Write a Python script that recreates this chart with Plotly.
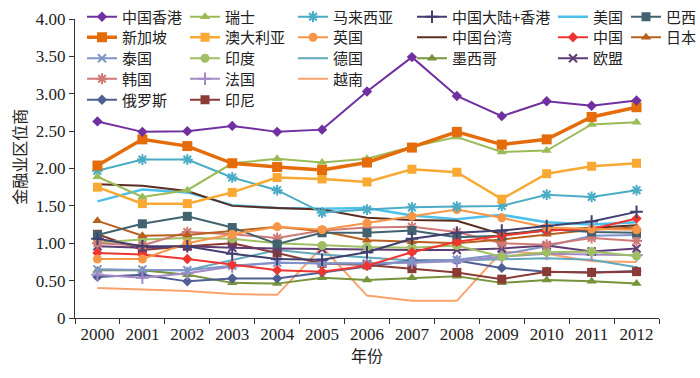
import plotly.graph_objects as go

years = [str(y) for y in range(2000, 2013)]

hong_kong = [2.63, 2.49, 2.50, 2.57, 2.49, 2.52, 3.03, 3.49, 2.97, 2.70, 2.90, 2.84, 2.91]
singapore = [2.04, 2.39, 2.30, 2.07, 2.02, 1.98, 2.08, 2.28, 2.49, 2.32, 2.39, 2.69, 2.82]
switzerland = [1.89, 1.62, 1.71, 2.07, 2.13, 2.08, 2.13, 2.29, 2.42, 2.22, 2.24, 2.59, 2.62]
malaysia = [1.97, 2.12, 2.12, 1.88, 1.71, 1.41, 1.45, 1.48, 1.49, 1.50, 1.65, 1.62, 1.71]
australia = [1.75, 1.53, 1.53, 1.68, 1.88, 1.86, 1.82, 1.99, 1.95, 1.59, 1.93, 2.03, 2.07]
uk = [0.79, 0.79, 1.00, 1.12, 1.22, 1.18, 1.27, 1.36, 1.45, 1.34, 1.21, 1.19, 1.18]
mainland_hk = [1.06, 0.96, 0.96, 0.86, 0.79, 0.78, 0.88, 1.06, 1.14, 1.17, 1.23, 1.29, 1.42]
usa = [1.56, 1.72, 1.68, 1.51, 1.47, 1.46, 1.47, 1.37, 1.32, 1.38, 1.28, 1.25, 1.28]
brazil = [1.11, 1.26, 1.36, 1.21, 0.99, 1.14, 1.14, 1.17, 1.08, 1.10, 1.19, 1.15, 1.14]
taiwan = [1.79, 1.77, 1.70, 1.50, 1.47, 1.45, 1.34, 1.31, 1.30, 1.12, 1.17, 1.20, 1.24]
china = [0.87, 0.85, 0.79, 0.71, 0.64, 0.62, 0.70, 0.88, 1.02, 1.10, 1.17, 1.19, 1.33]
japan = [1.30, 1.10, 1.11, 1.16, 1.22, 1.16, 1.04, 1.02, 1.00, 1.05, 1.12, 1.18, 1.21]
thailand = [0.65, 0.65, 0.64, 0.70, 0.74, 0.73, 0.73, 0.75, 0.78, 0.85, 0.96, 1.10, 1.11]
india = [1.01, 1.05, 1.07, 1.06, 1.00, 0.97, 0.95, 0.94, 0.97, 0.82, 0.88, 0.89, 0.83]
germany = [0.65, 0.64, 0.64, 0.77, 0.91, 0.85, 0.81, 0.77, 0.77, 0.79, 0.80, 0.78, 0.68]
mexico = [0.64, 0.64, 0.58, 0.47, 0.46, 0.54, 0.51, 0.54, 0.56, 0.47, 0.51, 0.49, 0.46]
eu = [0.96, 0.94, 0.96, 0.94, 0.93, 0.92, 0.92, 0.91, 0.91, 0.93, 0.97, 0.89, 0.93]
korea = [1.00, 0.97, 1.15, 1.12, 1.07, 1.17, 1.21, 1.22, 1.15, 1.00, 0.98, 1.07, 1.03]
france = [0.58, 0.54, 0.60, 0.69, 0.74, 0.73, 0.73, 0.74, 0.76, 0.82, 0.86, 0.85, 0.84]
vietnam = [0.40, 0.38, 0.36, 0.32, 0.31, 0.95, 0.30, 0.23, 0.23, 0.89, 0.86, 0.76, 0.75]
russia = [0.55, 0.58, 0.49, 0.53, 0.53, 0.61, 0.70, 0.77, 0.77, 0.67, 0.62, 0.61, 0.63]
indonesia = [1.12, 0.91, 0.96, 1.00, 0.87, 0.73, 0.71, 0.66, 0.61, 0.52, 0.62, 0.61, 0.62]

ytick_vals = [0, 0.5, 1.0, 1.5, 2.0, 2.5, 3.0, 3.5, 4.0]
ytick_text = ["0", "0.50", "1.00", "1.50", "2.00", "2.50", "3.00", "3.50", "4.00"]

# (name, values, color, symbol, marker size, line width, legend column, legend row)
series = [
    ("越南", vietnam, "#F8A36C", None, 0, 2, 2, 3),
    ("德国", germany, "#62A9BC", None, 0, 2, 2, 2),
    ("美国", usa, "#4DC0EC", None, 0, 2.5, 4, 0),
    ("中国台湾", taiwan, "#5C2C20", None, 0, 2, 3, 1),
    ("墨西哥", mexico, "#77933C", "triangle-up", 9, 2, 3, 2),
    ("俄罗斯", russia, "#4F5F93", "diamond", 8, 2, 0, 4),
    ("印尼", indonesia, "#8B3A36", "square", 9, 2, 1, 4),
    ("法国", france, "#A48AC4", "cross-thin", 9, 2, 1, 3),
    ("泰国", thailand, "#7F95CA", "x-thin", 8, 2, 0, 2),
    ("欧盟", eu, "#5F3D74", "x-thin", 8, 2, 4, 2),
    ("印度", india, "#A0BE63", "circle", 9, 2, 1, 2),
    ("韩国", korea, "#D07A78", "asterisk", 9, 2, 0, 3),
    ("日本", japan, "#B8601E", "triangle-up", 9, 2, 5, 1),
    ("巴西", brazil, "#41626E", "square", 9, 2, 5, 0),
    ("中国", china, "#EE3530", "diamond", 8, 2, 4, 1),
    ("英国", uk, "#F79646", "circle", 9, 2, 2, 1),
    ("中国大陆+香港", mainland_hk, "#403F6F", "cross-thin", 9, 2, 3, 0),
    ("马来西亚", malaysia, "#4BACC6", "asterisk", 9, 2, 2, 0),
    ("澳大利亚", australia, "#F8A933", "square", 9, 2.5, 1, 1),
    ("瑞士", switzerland, "#9BBB59", "triangle-up", 9, 2, 1, 0),
    ("新加坡", singapore, "#E46C0A", "square", 10, 3.5, 0, 1),
    ("中国香港", hong_kong, "#7030A0", "diamond", 8, 2, 0, 0),
]

W, H = 700, 378
x0, x1 = 74.5, 659.5
y_top, y_bot = 18.5, 318.5

col_left_px = [82, 185, 293, 412, 553, 626]
row_center_px = [17, 37.5, 58.5, 79, 100]

cjk_family = "Noto Sans CJK SC"
num_family = "Liberation Serif"

fig = go.Figure()
legends = {}
for i, (name, vals, color, sym, msize, lw, col, row) in enumerate(series):
    key = "legend" if i == 0 else f"legend{i + 1}"
    if sym is None:
        mode = "lines"
        marker = None
    else:
        mode = "lines+markers"
        thin = sym.endswith("-thin") or sym == "asterisk"
        marker = dict(symbol=sym, size=msize, color=color,
                      line=dict(color=color, width=2 if thin else 0))
    fig.add_trace(go.Scatter(
        x=years, y=vals, name=name, mode=mode,
        line=dict(color=color, width=lw),
        marker=marker, legend=key,
    ))
    legends[key] = dict(
        bgcolor="rgba(0,0,0,0)", borderwidth=0,
        font=dict(size=15, color="#222", family=cjk_family),
        xref="container", yref="container",
        x=col_left_px[col] / W, y=1 - row_center_px[row] / H,
        xanchor="left", yanchor="middle", orientation="v", itemwidth=30,
    )

fig.add_annotation(
    text="金融业区位商", textangle=-90, showarrow=False,
    xref="paper", yref="paper",
    x=(18 - x0) / (x1 - x0), y=(y_bot - 157) / (y_bot - y_top),
    xanchor="center", yanchor="middle",
    font=dict(size=16, color="#222", family=cjk_family),
)

fig.update_layout(
    width=W, height=H,
    margin=dict(l=x0, r=W - x1, t=y_top, b=H - y_bot, autoexpand=False),
    paper_bgcolor="white", plot_bgcolor="white",
    font=dict(family=cjk_family, size=17, color="#222"),
    showlegend=True,
    xaxis=dict(type="category", range=[-0.5, 12.5], tickson="boundaries",
               ticks="outside", ticklen=5, tickcolor="#333", showline=True,
               linecolor="#333", linewidth=1.2, showgrid=False, zeroline=False,
               tickfont=dict(size=17, family=num_family, color="#222"),
               title=dict(text="年份", font=dict(size=16, family=cjk_family), standoff=8)),
    yaxis=dict(range=[0, 4], tickvals=ytick_vals, ticktext=ytick_text,
               ticks="outside", ticklen=5, tickcolor="#333", showline=True,
               linecolor="#333", linewidth=1.2, showgrid=False, zeroline=False,
               tickfont=dict(size=17, family=num_family, color="#222")),
    **legends,
)

fig.write_html("out.html", config={"displayModeBar": False},
               post_script="document.body.style.margin='0';")
